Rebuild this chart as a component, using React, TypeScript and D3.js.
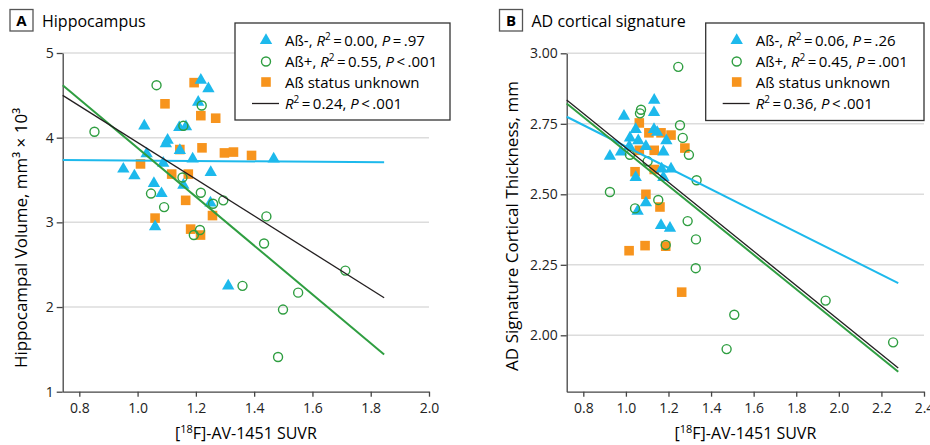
import React, { useEffect, useRef } from 'react';
import * as d3 from 'd3';

type Pt = [number, number];

// Panel A: hippocampal volume vs SUVR
const hippoAbNeg: Pt[] = [
  [1.217, 4.68], [1.243, 4.58], [1.208, 4.42], [1.023, 4.14], [1.143, 4.12], [1.166, 4.13],
  [1.103, 3.97], [1.097, 3.93], [1.145, 3.85], [1.031, 3.81], [1.189, 3.75], [1.088, 3.70],
  [0.951, 3.63], [0.989, 3.55], [1.251, 3.59], [1.056, 3.46], [1.157, 3.44], [1.082, 3.34],
  [1.25, 3.23], [1.06, 2.95], [1.311, 2.25], [1.467, 3.75],
];
const hippoAbPos: Pt[] = [
  [1.065, 4.62], [1.22, 4.38], [0.852, 4.07], [1.157, 4.14], [1.154, 3.53], [1.046, 3.34],
  [1.217, 3.35], [1.091, 3.18], [1.259, 3.22], [1.294, 3.26], [1.193, 2.85], [1.214, 2.91],
  [1.442, 3.07], [1.434, 2.75], [1.713, 2.43], [1.36, 2.25], [1.551, 2.17], [1.499, 1.97],
  [1.482, 1.41],
];
const hippoUnknown: Pt[] = [
  [1.194, 4.65], [1.094, 4.40], [1.217, 4.26], [1.268, 4.23], [1.145, 3.86], [1.221, 3.88],
  [1.298, 3.82], [1.329, 3.83], [1.391, 3.79], [1.01, 3.69], [1.117, 3.57], [1.174, 3.57],
  [1.165, 3.26], [1.257, 3.08], [1.06, 3.05], [1.182, 2.92], [1.216, 2.85],
];
// fitted lines, read as end points
const hippoFitNeg: Pt[] = [[0.743, 3.735], [1.846, 3.71]];
const hippoFitPos: Pt[] = [[0.743, 4.62], [1.846, 1.44]];
const hippoFitAll: Pt[] = [[0.743, 4.50], [1.846, 2.11]];

// Panel B: AD cortical signature thickness vs SUVR
const ctxAbNeg: Pt[] = [
  [1.133, 2.834], [0.991, 2.777], [1.132, 2.79], [1.046, 2.73], [1.132, 2.73], [1.147, 2.72],
  [1.019, 2.70], [1.058, 2.69], [1.19, 2.69], [1.016, 2.67], [1.094, 2.67], [1.176, 2.65],
  [0.925, 2.635], [0.977, 2.65], [1.168, 2.59], [1.212, 2.59], [1.046, 2.56], [1.176, 2.56],
  [1.094, 2.47], [1.055, 2.44], [1.165, 2.39], [1.207, 2.38],
];
const ctxAbPos: Pt[] = [
  [1.246, 2.952], [1.071, 2.80], [1.066, 2.787], [1.254, 2.745], [1.267, 2.70], [1.296, 2.64],
  [1.019, 2.64], [1.102, 2.617], [1.332, 2.55], [0.925, 2.508], [1.152, 2.48], [1.043, 2.45],
  [1.29, 2.405], [1.329, 2.34], [1.187, 2.32], [1.328, 2.238], [1.509, 2.073], [1.473, 1.951],
  [1.938, 2.123], [2.255, 1.975],
];
const ctxUnknown: Pt[] = [
  [1.063, 2.753], [1.108, 2.718], [1.165, 2.718], [1.212, 2.71], [1.063, 2.656], [1.133, 2.656],
  [1.277, 2.664], [1.043, 2.58], [1.133, 2.588], [1.094, 2.50], [1.16, 2.455], [1.09, 2.318],
  [1.015, 2.30], [1.187, 2.316], [1.262, 2.153],
];
const ctxFitNeg: Pt[] = [[0.722, 2.775], [2.279, 2.185]];
const ctxFitPos: Pt[] = [[0.722, 2.822], [2.279, 1.871]];
const ctxFitAll: Pt[] = [[0.722, 2.834], [2.279, 1.884]];

const hippoXTicks = [0.8, 1.0, 1.2, 1.4, 1.6, 1.8, 2.0];
const hippoYTicks = [1, 2, 3, 4, 5];
const ctxXTicks = [0.8, 1.0, 1.2, 1.4, 1.6, 1.8, 2.0, 2.2, 2.4];
const ctxYTicks = [2.0, 2.25, 2.5, 2.75, 3.0];

const hippoStats = { neg: ['0.00', '= .97'], pos: ['0.55', '< .001'], all: ['0.24', '< .001'] };
const ctxStats = { neg: ['0.06', '= .26'], pos: ['0.45', '= .001'], all: ['0.36', '< .001'] };

const BLUE = '#1db9ec';
const GREEN = '#2f9e41';
const ORANGE = '#f7941d';
const DARK = '#231f20';
const FONT = '"Open Sans", Lato, sans-serif';

const App = () => {
  const svgRef = useRef<SVGSVGElement>(null);

  useEffect(() => {
    const svg = d3.select(svgRef.current);
    svg.selectAll('*').remove();

    const panel = (cfg: any) => {
      const g = svg.append('g');
      const x = d3.scaleLinear().domain(cfg.xDomain).range(cfg.xRange);
      const y = d3.scaleLinear().domain(cfg.yDomain).range(cfg.yRange);

      // panel letter + title
      g.append('rect')
        .attr('x', cfg.boxX).attr('y', 9.5).attr('width', 23).attr('height', 21.5)
        .attr('fill', 'white').attr('stroke', '#555').attr('stroke-width', 1.3);
      g.append('text')
        .attr('x', cfg.boxX + 11.5).attr('y', 26).attr('text-anchor', 'middle')
        .style('font-family', FONT).style('font-size', '15px').style('font-weight', 700)
        .text(cfg.letter);
      g.append('text')
        .attr('x', cfg.boxX + 32).attr('y', 26.5)
        .style('font-family', FONT).style('font-size', '16px')
        .text(cfg.title);

      // grid
      g.selectAll('.grid')
        .data(cfg.yTicks.filter((t: number) => t > cfg.yDomain[0]))
        .join('line')
        .attr('x1', cfg.xRange[0]).attr('x2', cfg.xRange[1])
        .attr('y1', (d: number) => y(d)).attr('y2', (d: number) => y(d))
        .attr('stroke', '#dcdcdc').attr('stroke-width', 1.5);

      // axes
      const ax = g.append('g')
        .attr('transform', `translate(0,${cfg.yRange[0]})`)
        .call(d3.axisBottom(x).tickValues(cfg.xTicks).tickFormat(d3.format('.1f')).tickSize(5).tickSizeOuter(0).tickPadding(6));
      const ay = g.append('g')
        .attr('transform', `translate(${cfg.xRange[0]},0)`)
        .call(d3.axisLeft(y).tickValues(cfg.yTicks).tickFormat(d3.format(cfg.yFmt)).tickSize(6).tickSizeOuter(0).tickPadding(3));
      [ax, ay].forEach(a => {
        a.selectAll('path, line').attr('stroke', '#444').attr('stroke-width', 1.3);
        a.selectAll('text').style('font-family', FONT).style('font-size', '14px').attr('fill', '#222');
      });

      // axis titles
      const xl = g.append('text')
        .attr('x', (cfg.xRange[0] + cfg.xRange[1]) / 2).attr('y', 439)
        .attr('text-anchor', 'middle')
        .style('font-family', FONT).style('font-size', '16px');
      xl.append('tspan').text('[');
      xl.append('tspan').attr('dy', -6).style('font-size', '11px').text('18');
      xl.append('tspan').attr('dy', 6).text('F]-AV-1451 SUVR');

      g.append('text')
        .attr('transform', `translate(${cfg.yLabelX},${cfg.yLabelY}) rotate(-90)`)
        .attr('text-anchor', 'middle')
        .style('font-family', FONT).style('font-size', '17px')
        .text(cfg.yLabel);

      // markers
      const tri = d3.symbol().type(d3.symbolTriangle).size(66);
      const sq = d3.symbol().type(d3.symbolSquare).size(92);
      g.selectAll('.unk').data(cfg.unk).join('path')
        .attr('d', sq).attr('transform', (d: Pt) => `translate(${x(d[0])},${y(d[1])})`)
        .attr('fill', ORANGE);
      g.selectAll('.neg').data(cfg.neg).join('path')
        .attr('d', tri).attr('transform', (d: Pt) => `translate(${x(d[0])},${y(d[1])})`)
        .attr('fill', BLUE);
      g.selectAll('.pos').data(cfg.pos).join('circle')
        .attr('cx', (d: Pt) => x(d[0])).attr('cy', (d: Pt) => y(d[1])).attr('r', 4.5)
        .attr('fill', 'none').attr('stroke', GREEN).attr('stroke-width', 1.4);

      // fitted lines
      const line = d3.line<Pt>().x(d => x(d[0])).y(d => y(d[1]));
      g.append('path').datum(cfg.fitNeg).attr('d', line).attr('fill', 'none').attr('stroke', BLUE).attr('stroke-width', 2);
      g.append('path').datum(cfg.fitPos).attr('d', line).attr('fill', 'none').attr('stroke', GREEN).attr('stroke-width', 2);
      g.append('path').datum(cfg.fitAll).attr('d', line).attr('fill', 'none').attr('stroke', DARK).attr('stroke-width', 1.3);

      // legend
      const L = cfg.legend;
      const lg = g.append('g');
      lg.append('rect').attr('x', L.x).attr('y', L.y).attr('width', L.w).attr('height', L.h)
        .attr('fill', 'white').attr('stroke', '#333').attr('stroke-width', 1.3);
      const mx = L.x + 31;
      const tx = L.x + 50;
      const rows = [L.y + 17.5, L.y + 38.5, L.y + 59, L.y + 80.5];
      lg.append('path').attr('d', tri).attr('transform', `translate(${mx},${rows[0]})`).attr('fill', BLUE);
      lg.append('circle').attr('cx', mx).attr('cy', rows[1]).attr('r', 4.5)
        .attr('fill', 'none').attr('stroke', GREEN).attr('stroke-width', 1.4);
      lg.append('path').attr('d', sq).attr('transform', `translate(${mx},${rows[2]})`).attr('fill', ORANGE);
      lg.append('line').attr('x1', mx - 14).attr('x2', mx + 13).attr('y1', rows[3]).attr('y2', rows[3])
        .attr('stroke', DARK).attr('stroke-width', 1.3);

      const statText = (yy: number, prefix: string, st: string[]) => {
        const t = lg.append('text').attr('x', tx).attr('y', yy + 5.5)
          .style('font-family', FONT).style('font-size', '15px');
        if (prefix) t.append('tspan').text(prefix);
        t.append('tspan').style('font-style', 'italic').text('R');
        t.append('tspan').attr('dy', -6).style('font-size', '10px').text('2');
        t.append('tspan').attr('dy', 6).text(`\u2009=\u2009${st[0]}, `);
        t.append('tspan').style('font-style', 'italic').text('P');
        t.append('tspan').text(`\u2009${st[1].replace(' ', '\u2009')}`);
      };
      statText(rows[0], 'A\u00df-, ', cfg.stats.neg);
      statText(rows[1], 'A\u00df+, ', cfg.stats.pos);
      lg.append('text').attr('x', tx).attr('y', rows[2] + 5.5)
        .style('font-family', FONT).style('font-size', '15px').text('A\u00df status unknown');
      statText(rows[3], '', cfg.stats.all);
    };

    panel({
      letter: 'A', title: 'Hippocampus', boxX: 10,
      xDomain: [0.743, 2.0], xRange: [62.7, 429],
      yDomain: [1, 5], yRange: [391.7, 53],
      xTicks: hippoXTicks, yTicks: hippoYTicks, yFmt: 'd',
      yLabel: 'Hippocampal Volume, mm\u00b3 \u00d7 10\u00b3', yLabelX: 27, yLabelY: 238,
      neg: hippoAbNeg, pos: hippoAbPos, unk: hippoUnknown,
      fitNeg: hippoFitNeg, fitPos: hippoFitPos, fitAll: hippoFitAll,
      legend: { x: 235, y: 23, w: 215, h: 97 }, stats: hippoStats,
    });
    panel({
      letter: 'B', title: 'AD cortical signature', boxX: 499.5,
      xDomain: [0.722, 2.4], xRange: [566.7, 924],
      yDomain: [1.8, 3.0], yRange: [391.7, 53.3],
      xTicks: ctxXTicks, yTicks: ctxYTicks, yFmt: '.2f',
      yLabel: 'AD Signature Cortical Thickness, mm', yLabelX: 518, yLabelY: 226,
      neg: ctxAbNeg, pos: ctxAbPos, unk: ctxUnknown,
      fitNeg: ctxFitNeg, fitPos: ctxFitPos, fitAll: ctxFitAll,
      legend: { x: 705.7, y: 23, w: 218.3, h: 97.5 }, stats: ctxStats,
    });
  }, []);

  return (
    <svg ref={svgRef} width={930} height={445}
      style={{ position: 'absolute', left: 0, top: 0, background: 'white', display: 'block' }} />
  );
};

export default App;
